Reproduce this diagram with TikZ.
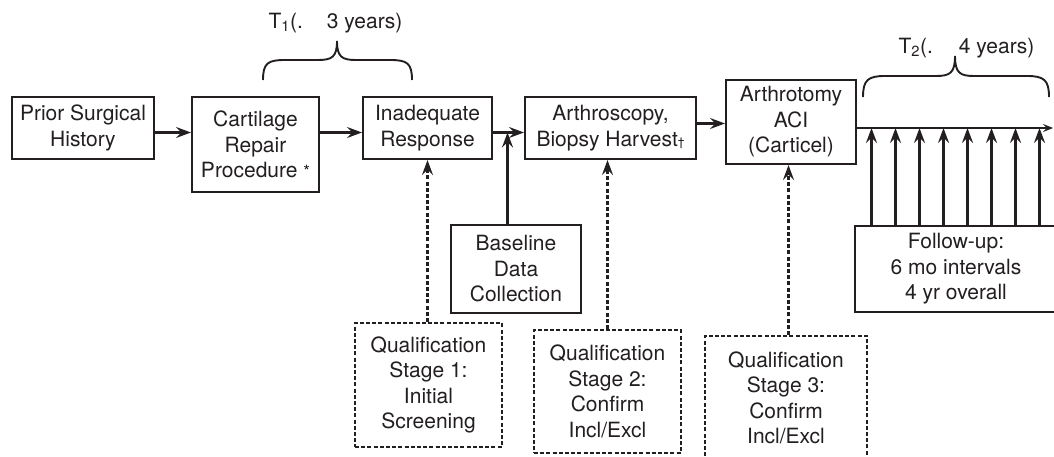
\documentclass[tikz,border=0pt]{standalone}
\usepackage{fontspec}
\setmainfont{TeX Gyre Heros}
\usetikzlibrary{arrows.meta,calc}
\definecolor{ink}{HTML}{231F20}
\begin{document}
\begin{tikzpicture}[x=1pt,y=-1pt,
  font=\fontsize{21}{25.5}\selectfont,
  line width=2pt, draw=ink, text=ink,
  box/.style={draw=ink, line width=2.1pt, inner sep=0pt, align=center},
  dbox/.style={box, dash pattern=on 4pt off 2.2pt},
  arr/.style={draw=ink, line width=2.1pt, -{Stealth[length=15pt,width=11pt,inset=5.5pt]}},
  darr/.style={arr, dash pattern=on 4pt off 2.2pt},
  brace/.style={draw=ink, line width=1.9pt},
  lbl/.style={inner sep=0pt, text=ink}
]
\useasboundingbox (0,0) rectangle (1054,457);
\fill[white] (0,0) rectangle (1054,457);

% main boxes
\node[box, minimum width=142pt, minimum height=62pt] (b1) at (83,128) {Prior Surgical\\History};
\node[box, minimum width=127pt, minimum height=95pt] (b2) at (255.5,144.5) {Cartilage\\Repair\\Procedure {\fontsize{17}{17}\selectfont *}};
\node[box, minimum width=129pt, minimum height=62pt] (b3) at (427.5,128) {Inadequate\\Response};
\node[box, minimum width=171pt, minimum height=62pt] (b4) at (610.5,128) {Arthroscopy,\\Biopsy Harvest{\fontsize{12}{12}\selectfont †}};
\node[box, minimum width=130pt, minimum height=84pt] (b5) at (791,122) {Arthrotomy\\ACI\\(Carticel)};

% lower boxes
\node[box, minimum width=130pt, minimum height=88pt] (bl) at (516,269) {Baseline\\Data\\Collection};
\node[box, minimum width=202pt, minimum height=86pt] (fu) at (956,269) {Follow-up:\\6 mo intervals\\4 yr overall};
\node[dbox, minimum width=147pt, minimum height=124pt] (q1) at (428.5,385) {Qualification\\Stage 1:\\Initial\\Screening};
\node[dbox, minimum width=147pt, minimum height=123pt] (q2) at (607.5,391.5) {Qualification\\Stage 2:\\Confirm\\Incl/Excl};
\node[dbox, minimum width=162pt, minimum height=124pt] (q3) at (786,398) {Qualification\\Stage 3:\\Confirm\\Incl/Excl};

% junction, timeline end, stage-3 connector start
\coordinate (j) at (507.5,132.5);
\coordinate (tl) at (1053,128);
\coordinate (q3t) at ($(q3.north)+(2.5,0)$);

% main flow arrows
\draw[arr] ([yshift=-4.5pt]b1.east) -- ([yshift=-4.5pt]b1.east -| b2.west);
\draw[arr] ([yshift=-4.5pt]b3.west -| b2.east) -- ([yshift=-4.5pt]b3.west);
\draw[arr] (j -| b3.east) -- (j -| b4.west);
\draw[arr] ([yshift=-1.5pt]b5.west -| b4.east) -- ([yshift=-1.5pt]b5.west);
\draw[arr, line width=2.1pt, -{Stealth[length=10pt,width=8pt,inset=4pt]}] (b5.east |- tl) -- (tl);

% baseline arrow
\draw[arr] (bl.north -| j) -- (j);

% qualification arrows
\draw[darr] (b3.south |- q1.north) -- (b3.south);
\draw[darr] (q2.north) -- (q2.north |- b4.south);
\draw[darr] (q3t) -- (q3t |- b5.south);

% follow-up arrows
\foreach \i in {0,...,7}{
  \draw[arr] (fu.north -| {871.5+24*\i},0) -- ({871.5+24*\i},0 |- tl);
}

% braces
\draw[brace] (263,80) .. controls (263,63) and (268,60) .. (285,60) -- (318,60)
  .. controls (332,60) and (337,57) .. (337,41)
  .. controls (337,57) and (342,60) .. (356,60) -- (390,60)
  .. controls (407,60) and (412,63) .. (412,80);
\draw[brace] (863,97) .. controls (863,80) and (868,76) .. (885,76) -- (936,76)
  .. controls (950,76) and (955,73) .. (955,56)
  .. controls (955,73) and (960,76) .. (974,76) -- (1027,76)
  .. controls (1044,76) and (1049,80) .. (1049,97);

\node[lbl] (t1) at (335.5,23) {T\textsubscript{1}(.\hspace{24pt}3 years)};
\node[lbl] (t2) at (966.5,48) {T\textsubscript{2}(.\hspace{26pt}4 years)};
\end{tikzpicture}
\end{document}
